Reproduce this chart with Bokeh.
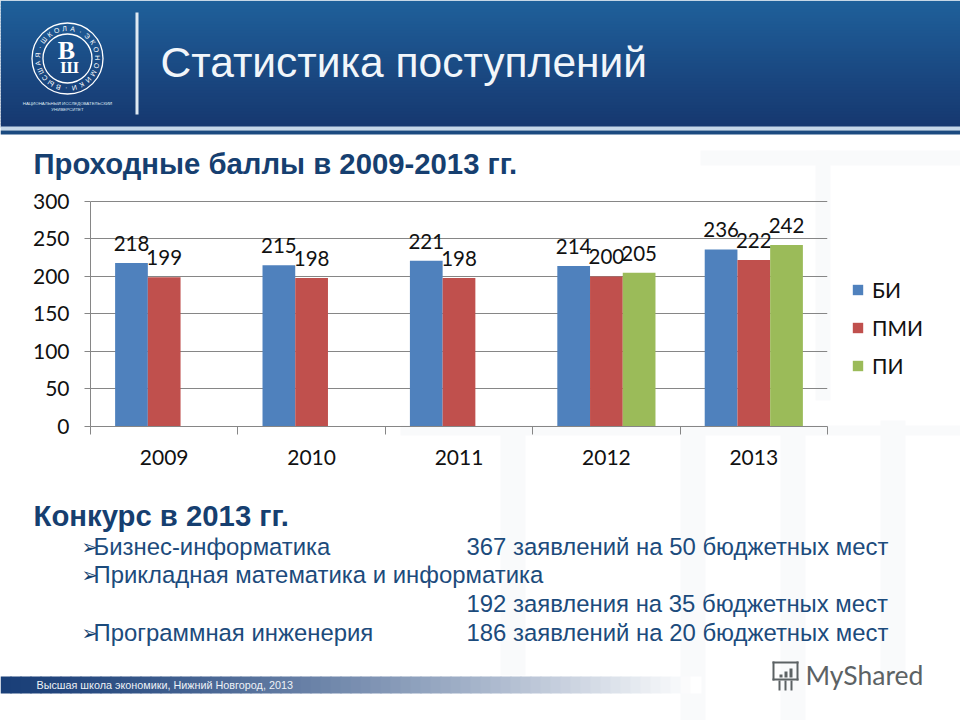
import math
from bokeh.plotting import figure
from bokeh.models import Range1d, FixedTicker, Legend, LegendItem, ColumnDataSource
from bokeh.core.properties import value
from bokeh.embed import file_html
from bokeh.resources import INLINE

years = ["2009", "2010", "2011", "2012", "2013"]
bi = [218, 215, 221, 214, 236]
pmi = [199, 198, 198, 200, 222]
pi_years = ["2012", "2013"]
pi_vals = [205, 242]
y_ticks = [0, 50, 100, 150, 200, 250, 300]
series_names = ["БИ", "ПМИ", "ПИ"]
title = "Статистика поступлений"
heading1 = "Проходные баллы в 2009-2013 гг."
heading2 = "Конкурс в 2013 гг."
rows = [("➢", "Бизнес-информатика", "367 заявлений на 50 бюджетных мест"),
        ("➢", "Прикладная математика и информатика", ""),
        ("", "", "192 заявления на 35 бюджетных мест"),
        ("➢", "Программная инженерия", "186 заявлений на 20 бюджетных мест")]
footer = "Высшая школа экономики, Нижний Новгород, 2013"

BLUE, RED, GREEN = "#4f81bd", "#c0504d", "#9bbb59"
FONT = "Lato"
ARIAL = "Liberation Sans"
GRAY = "#868686"
ABS = {"position": "absolute", "left": "0px", "top": "0px"}

# ---------- slide background: a full-page figure in page pixels ----------
bg = figure(width=960, height=720, output_backend="svg", toolbar_location=None,
            x_range=Range1d(0, 960), y_range=Range1d(720, 0), x_axis_location=None, y_axis_location=None,
            min_border=0, outline_line_color=None, background_fill_color="white", border_fill_color="white")
bg.grid.visible = False
bg.styles = ABS


def lerp(a, b, t):
    return "#%02x%02x%02x" % tuple(round(a[i] + (b[i] - a[i]) * t) for i in range(3))


def box(l, r, t, b, color):
    bg.quad(left=[l], right=[r], top=[t], bottom=[b], fill_color=color, line_color=None)


def label(x, y, text, size, color, font=ARIAL, style="normal", align="left", angle=0):
    bg.text(x=[x], y=[y], text=[text], text_font=value(font), text_font_size=f"{size}px", text_color=color,
            text_font_style=style, text_align=align, text_baseline="middle", angle=angle)


# faint watermark blocks of the slide background
for l, r, t, b in ((500, 525, 430, 675), (680, 705, 430, 720), (780, 805, 430, 720), (880, 905, 420, 675),
                   (400, 960, 425, 435), (815, 830, 150, 400), (700, 960, 150, 165)):
    box(l, r, t, b, "#f9fafb")

for i in range(0, 126, 3):
    box(0, 960, i, i + 4, lerp((0x1f, 0x60, 0x9a), (0x16, 0x37, 0x6f), i / 125))
box(0, 960, 126, 130, "#c4d6e8")
box(0, 960, 130, 134, "#1b4a80")
box(135, 138, 12, 114, "#dfe9f2")
for i in range(0, 700, 10):
    box(i, i + 11, 676, 693, lerp((0x1a, 0x3f, 0x78), (0xff, 0xff, 0xff), (i / 690) ** 1.3))

# logo
for r in (35.5, 24.5):
    bg.circle(x=[67], y=[58], radius=r, fill_color=None, line_color="white", line_width=1.3)
ring_text = "ВЫСШАЯ·ШКОЛА·ЭКОНОМИКИ·"
for k, ch in enumerate(ring_text):
    a = math.pi * 0.6 + 2 * math.pi * k / len(ring_text)
    label(67 + 30 * math.cos(a), 58 + 30 * math.sin(a), ch, 7, "white", align="center", angle=-(a + math.pi / 2))
label(66, 50, "В", 26, "white", font="Liberation Serif", style="bold", align="center")
label(69, 67, "Ш", 17, "white", font="Liberation Serif", style="bold", align="center")
label(67, 103, "НАЦИОНАЛЬНЫЙ ИССЛЕДОВАТЕЛЬСКИЙ", 4.4, "#dfe9f2", align="center")
label(67, 109, "УНИВЕРСИТЕТ", 4.4, "#dfe9f2", align="center")

label(160, 62, title, 42.5, "#f2f6fa")
label(33, 163, heading1, 29.3, "#163f70", style="bold")
label(33, 515, heading2, 29.3, "#163f70", style="bold")
for y, (bul, name, txt) in zip([546, 574, 603, 632], rows):
    if bul:
        label(81, y, bul, 20, "#123f70", font="DejaVu Sans")
    if name:
        label(93, y, name, 23.9, "#1c4b7c")
    if txt:
        label(466, y, txt, 23.9, "#1c4b7c")
label(36, 684, footer, 10.8, "#eef2f7")

# MyShared mark
label(805, 674, "MyShared", 26.5, "#5c6264", font=FONT)
for l, r, t, b in ((772, 798, 661, 663), (772, 774, 661, 680), (796, 798, 661, 680), (772, 798, 678, 680),
                   (784, 787, 671, 677), (789, 792, 668, 677), (779, 782, 674, 677),
                   (778, 780, 680, 690), (784, 786, 680, 690), (790, 792, 680, 690)):
    box(l, r, t, b, "#5c6264")

# legend keys: the legend lives on the page-sized figure so that it may sit outside the plot area;
# its key bars lie off the page, the real bars are on the chart figure below
keys = [bg.vbar(x=[-50], top=[-50], bottom=[-60], width=1, color=c, line_color=None) for c in (BLUE, RED, GREEN)]
legend = Legend(items=[LegendItem(label=n, renderers=[k]) for n, k in zip(series_names, keys)],
                location=(851, 342), background_fill_alpha=0, border_line_color=None,
                label_text_font=FONT, label_text_font_size="21px", label_text_color="#111111",
                glyph_width=13, glyph_height=13, spacing=13, label_standoff=8, label_height=24, margin=0, padding=0)
bg.add_layout(legend)

# ---------- chart ----------
p = figure(width=960, height=720, output_backend="svg", toolbar_location=None,
           x_range=Range1d(0, len(years)), y_range=Range1d(0, 301.33),
           min_border_left=90, min_border_right=133, min_border_top=200, min_border_bottom=294,
           outline_line_color=None, background_fill_color=None, border_fill_color=None)
p.styles = ABS

W = 0.222
centres = {y: i + 0.5 for i, y in enumerate(years)}
for cats, vals, off, col in ((years, bi, -W, BLUE), (years, pmi, 0, RED), (pi_years, pi_vals, W, GREEN)):
    src = ColumnDataSource(dict(x=[centres[c] + off for c in cats], y=vals, t=[str(v) for v in vals]))
    p.vbar(x="x", top="y", width=W, color=col, line_color=None, source=src)
    p.text(x="x", y="y", text="t", y_offset=-12, source=src,
           text_font=value(FONT), text_font_size="20.5px", text_color="#111111",
           text_align="center", text_baseline="bottom")

xa = p.xaxis[0]
xa.ticker = FixedTicker(ticks=[centres[y] for y in years], minor_ticks=list(range(len(years) + 1)))
xa.major_label_overrides = {centres[y]: y for y in years}
xa.axis_line_color = GRAY
xa.major_tick_line_color = None
xa.major_tick_in = 0
xa.major_tick_out = 0
xa.minor_tick_line_color = GRAY
xa.minor_tick_in = 0
xa.minor_tick_out = 8
xa.major_label_text_font = FONT
xa.major_label_text_font_size = "21px"
xa.major_label_text_color = "#111111"
xa.major_label_standoff = 15

ya = p.yaxis[0]
ya.ticker = FixedTicker(ticks=y_ticks)
ya.axis_line_color = GRAY
ya.major_tick_line_color = GRAY
ya.minor_tick_line_color = None
ya.major_tick_in = 0
ya.major_tick_out = 6
ya.major_label_text_font = FONT
ya.major_label_text_font_size = "21px"
ya.major_label_text_color = "#111111"
ya.major_label_standoff = 15
ya.bounds = (0, 300)
p.ygrid.grid_line_color = GRAY
p.ygrid.ticker = FixedTicker(ticks=y_ticks)
p.xgrid.visible = False

open("out.html", "w").write(file_html([bg, p], INLINE))
